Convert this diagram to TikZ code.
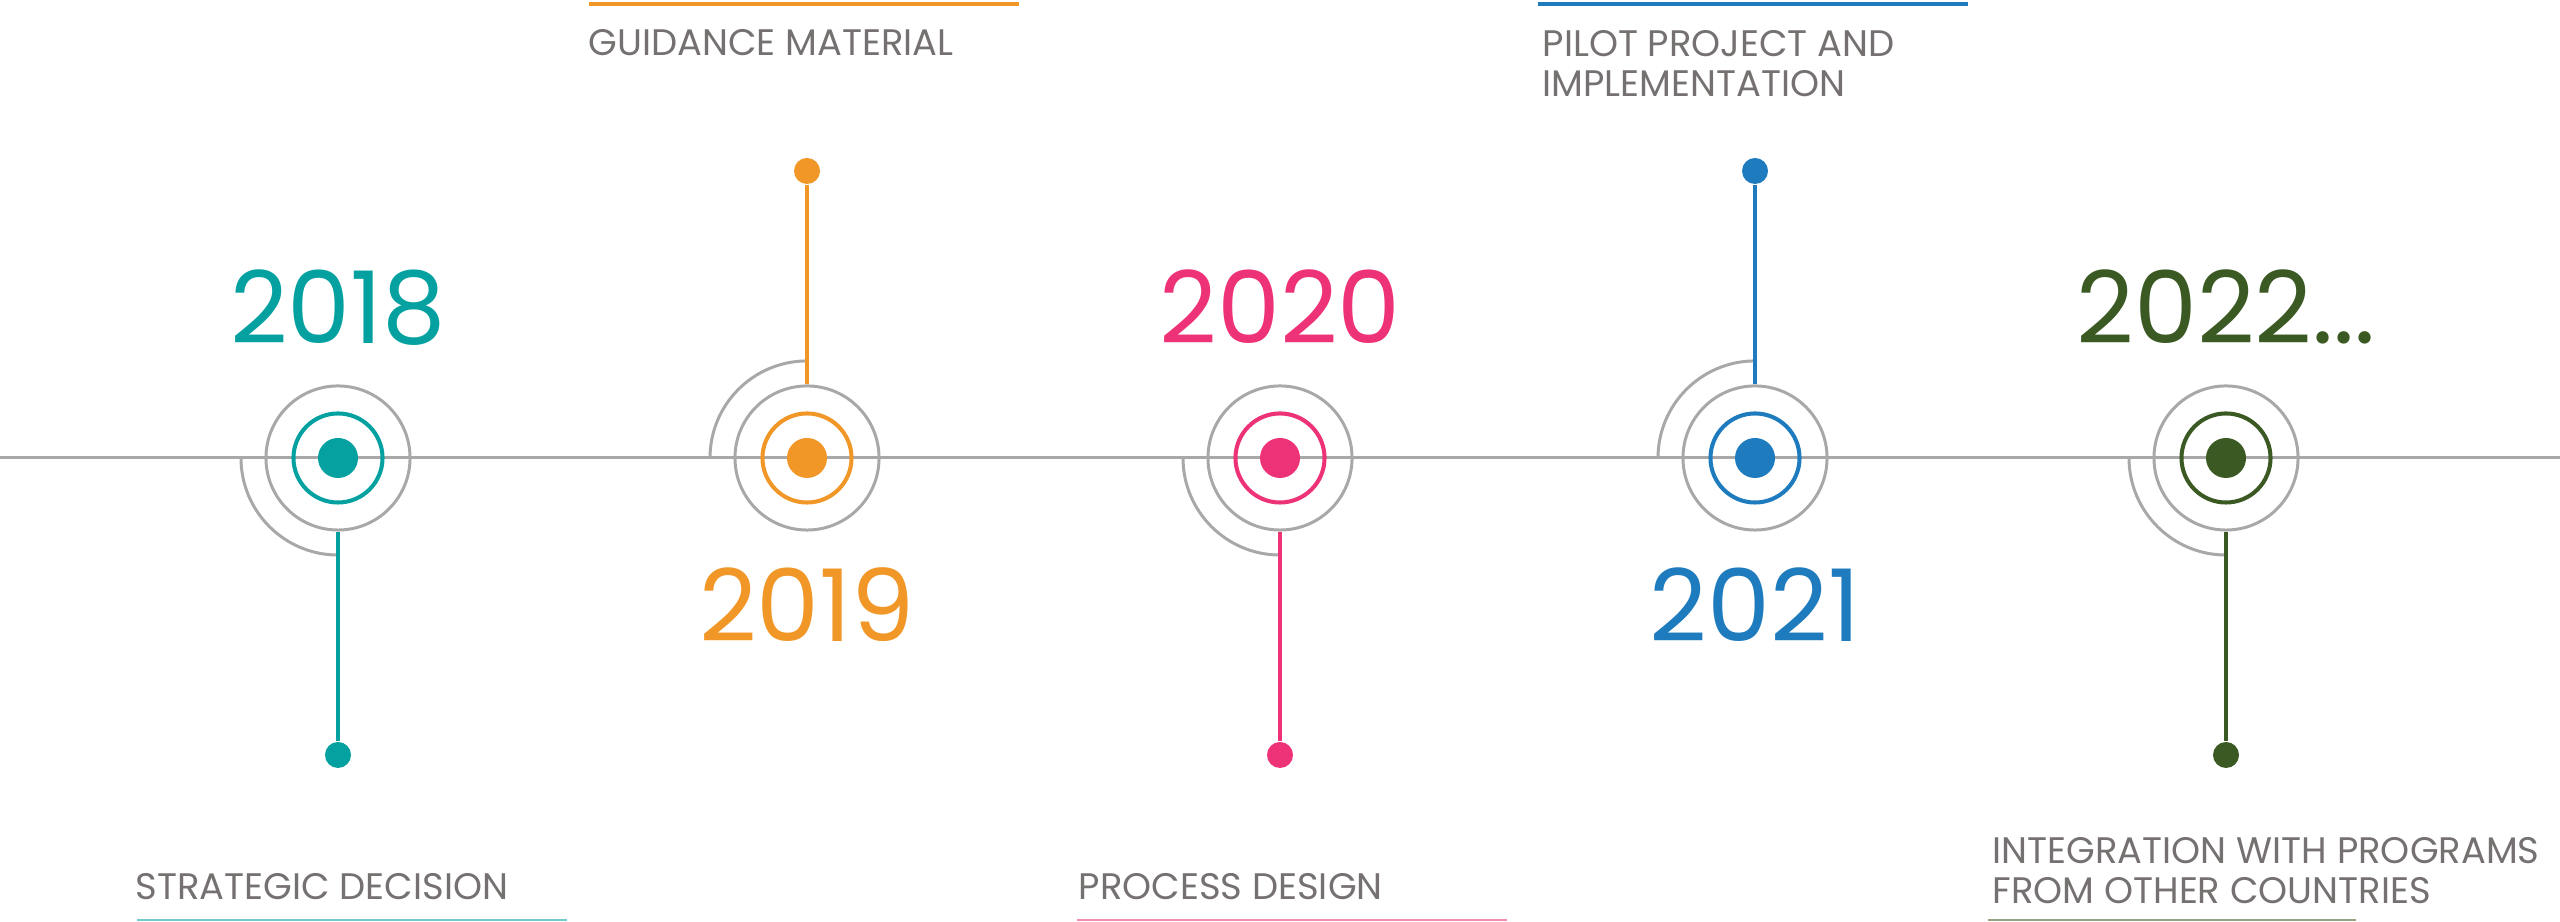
\documentclass[tikz,border=0pt]{standalone}
\usepackage{fontspec}
\setmainfont{Poppins}
\usepackage{tikz}
\usetikzlibrary{calc,positioning}
\definecolor{tealMile}{RGB}{4,161,160}
\definecolor{orangeMile}{RGB}{240,151,40}
\definecolor{pinkMile}{RGB}{238,50,119}
\definecolor{blueMile}{RGB}{30,123,190}
\definecolor{greenMile}{RGB}{58,89,35}
\definecolor{axisGray}{RGB}{168,168,168}
\definecolor{labelGray}{RGB}{118,113,113}
\tikzset{
    axisLine/.style={
        ,   draw=axisGray
        ,   line width=0.85pt
    },
    grayRing/.style={
        ,   circle
        ,   draw=axisGray
        ,   line width=0.85pt
        ,   minimum size=1.44cm
        ,   inner sep=0pt
    },
    colRing/.style={
        ,   circle
        ,   draw=#1
        ,   line width=1.15pt
        ,   minimum size=0.89cm
        ,   inner sep=0pt
    },
    hubDot/.style={
        ,   circle
        ,   fill=#1
        ,   minimum size=0.40cm
        ,   inner sep=0pt
    },
    pinDot/.style={
        ,   circle
        ,   fill=#1
        ,   minimum size=0.26cm
        ,   inner sep=0pt
    },
    pinLine/.style={
        ,   draw=#1
        ,   line width=1.15pt
    },
    yearText/.style={
        ,   text=#1
        ,   font={\fontsize{28.5pt}{30pt}\selectfont}
        ,   anchor=base
        ,   inner sep=0pt
    },
    stepText/.style={ % anchor is the baseline of the last line
        ,   text=labelGray
        ,   font={\fontsize{10.5pt}{11.4pt}\selectfont}
        ,   anchor=base west
        ,   align=left
        ,   inner sep=0pt
    },
    topBar/.style={ % line over the labels at the top
        ,   draw=#1
        ,   line width=1.15pt
    },
    lowBar/.style={ % line under the labels at the bottom
        ,   draw=#1!55!white
        ,   line width=0.7pt
    }
}

\begin{document}
\begin{tikzpicture}[x=0.01cm, y=0.01cm]
\useasboundingbox (0,0) rectangle (2560,922);
\coordinate (axisL) at (0,464);
\coordinate (axisR) at (2560,464);
\draw[axisLine] (axisL) -- (axisR);

% one milestone per year: rings on the axis, pin up or down, year opposite
\foreach \i/\x/\col/\s/\yr in {1/338/tealMile/-1/2018, 2/807/orangeMile/1/2019, 3/1280/pinkMile/-1/2020, 4/1755/blueMile/1/2021, 5/2226/greenMile/-1/{2022...}}{
  \coordinate (C\i) at (\x,464);
  \draw[axisLine] ($(C\i)+(-97,0)$) arc[start angle=180, end angle={180-90*(\s)}, radius=0.97cm];
  \node[grayRing] (G\i) at (C\i) {};
  \node[colRing=\col] (R\i) at (C\i) {};
  \node[hubDot=\col] (H\i) at (C\i) {};
  \node[pinDot=\col] (P\i) at ($(C\i)+(0,{\s*292-5})$) {};
  \draw[pinLine=\col] (G\i) -- (P\i);
  \node[yearText=\col] (Y\i) at ($(C\i)+(0,{-35-149*(\s)})$) {\yr};
}

% labels
\node[stepText] (L1) at (135,22) {STRATEGIC DECISION};
\draw[lowBar=tealMile] (137,2) -- (567,2);
\node[stepText] (L2) at (588,866) {GUIDANCE MATERIAL};
\draw[topBar=orangeMile] (589,918) -- (1019,918);
\node[stepText] (L3) at (1078,22) {PROCESS DESIGN};
\draw[lowBar=pinkMile] (1077,2) -- (1507,2);
\node[stepText] (L4) at (1542,825) {PILOT PROJECT AND\\IMPLEMENTATION};
\draw[topBar=blueMile] (1538,918) -- (1968,918);
\node[stepText] (L5) at (1992,18) {INTEGRATION WITH PROGRAMS\\FROM OTHER COUNTRIES};
\draw[lowBar=greenMile] (1988,2) -- (2356,2);
\end{tikzpicture}
\end{document}
